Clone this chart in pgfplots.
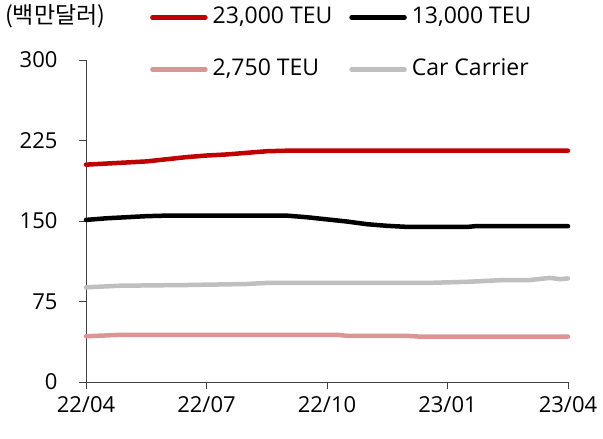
\documentclass[border=0pt]{standalone}
\usepackage{pgfplots}
\pgfplotsset{compat=1.18}
\usepackage{fontspec}
\setmainfont{Open Sans}
\newfontfamily\kr{Noto Sans CJK KR}
\definecolor{cRed}{HTML}{C00000}
\definecolor{cPink}{HTML}{DA9694}
\definecolor{cGray}{HTML}{BFBFBF}
\begin{document}
\begin{tikzpicture}
\path[use as bounding box] (-86pt,-57pt) rectangle (517pt,382pt);
\begin{axis}[
  scale only axis, width=482pt, height=322pt,
  at={(0pt,0pt)}, anchor=south west,
  xmin=0, xmax=12, ymin=0, ymax=300,
  axis x line*=bottom, axis y line*=left,
  xtick={0,3,6,9,12},
  xticklabels={22/04,22/07,22/10,23/01,23/04},
  ytick={0,75,150,225,300},
  tick align=outside, major tick length=7pt,
  axis line style={black!75, line width=0.9pt},
  tick style={black!75, line width=0.9pt},
  tick label style={font=\fontsize{22}{26}\selectfont, /pgf/number format/assume math mode=true},
  yticklabel style={xshift=-18pt},
  xticklabel style={yshift=-4pt},
  clip=false,
  legend columns=2, legend cell align=left,
  legend style={draw=none, fill=none, inner sep=0pt,
    at={(axis description cs:0.1328,1.165)}, anchor=north west,
    font=\fontsize{23}{27}\selectfont, row sep=31pt,
    nodes={inner sep=0pt, text height=16pt, text depth=5pt},
    /tikz/every odd column/.append style={column sep=5pt},
    /tikz/every even column/.append style={column sep=17pt}},
  legend image code/.code={\draw[#1, line cap=round] (0pt,0pt) -- (53pt,0pt);},
  every axis plot/.append style={line width=4.5pt, line join=round, line cap=round},
]
\addplot[cRed] coordinates {
  (0,202.5) (0.5,203.5) (1,204.5) (1.5,205.5) (2,207.5) (2.5,209.5)
  (3,211) (3.5,212) (4,213.5) (4.5,215) (5,215.5) (6,215.5) (7,215.5)
  (8,215.5) (9,215.5) (10,215.5) (11,215.5) (12,215.5)};
\addlegendentry{23,000 TEU}
\addplot[black] coordinates {
  (0,151) (0.5,152.5) (1,153.5) (1.5,154.5) (2,155) (3,155) (4,155)
  (5,155) (5.5,153.5) (6,151.5) (6.5,149.5) (7,147) (7.5,145.5) (8,144.5)
  (9,144.5) (9.5,144.5) (9.7,145.2) (10,145.2) (11,145.2) (12,145.2)};
\addlegendentry{13,000 TEU}
\addplot[cPink] coordinates {
  (0,42.6) (0.9,44) (2,44) (3,44) (4,44) (5,44) (6.25,44) (6.5,43)
  (7,43) (8,43) (8.3,42.3) (9,42.3) (10,42.3) (11,42.3) (12,42.3)};
\addlegendentry{2,750 TEU}
\addplot[cGray] coordinates {
  (0,88.2) (0.85,89.7) (2.6,90.4) (4,91.3) (4.5,92.3) (6,92.3) (7,92.3)
  (8.5,92.3) (9.6,93.5) (10.4,95) (11.05,95) (11.55,97) (11.8,95.8) (12,96.5)};
\addlegendentry{Car Carrier}
\end{axis}
\node[anchor=west, inner sep=0pt, font=\fontsize{23}{27}\selectfont\kr] at (-81pt,366pt) {(백만달러)};
\end{tikzpicture}
\end{document}
